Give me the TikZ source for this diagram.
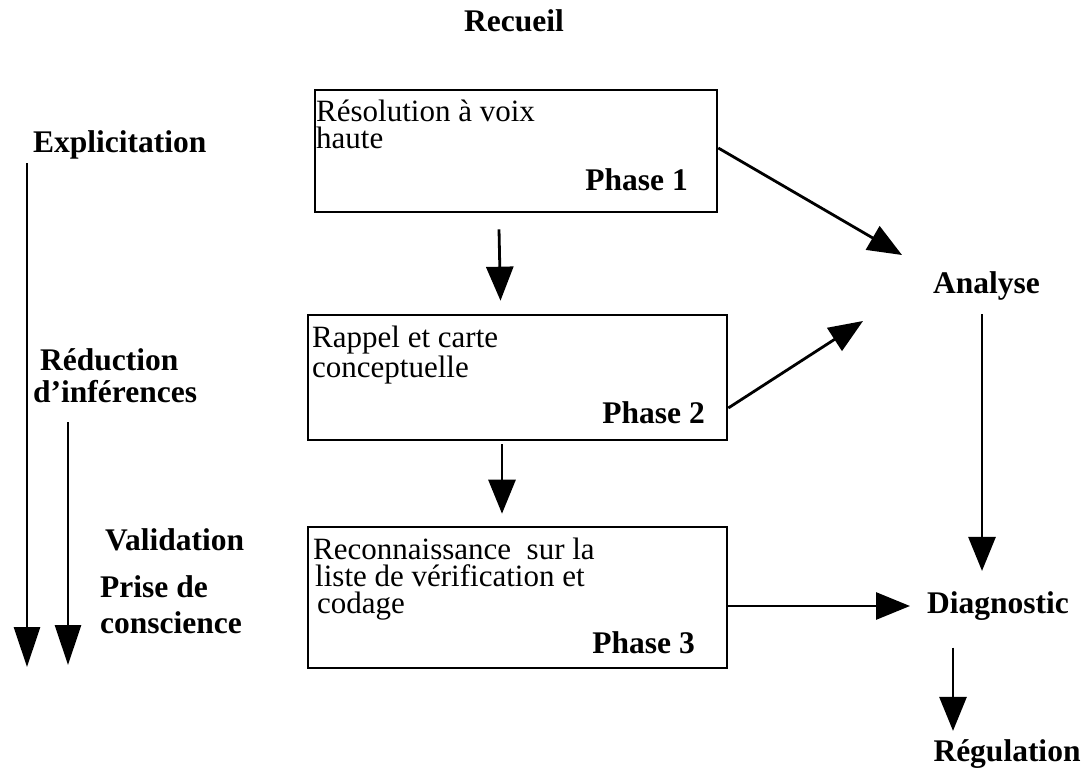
\documentclass[tikz,border=0pt]{standalone}
\usepackage{fontspec}
\setmainfont{Liberation Serif}
\usetikzlibrary{arrows.meta}

\tikzset{
  box/.style={draw, line width=2.6pt, inner sep=0pt},
  txt/.style={inner sep=0pt, anchor=base west, align=left, font=\fontsize{31}{27}\selectfont},
  bold/.style={inner sep=0pt, font=\fontsize{31.5}{36}\selectfont\bfseries},
  arr/.style={line width=2.8pt, -{Triangle[length=34pt,width=27pt]}},
  longarr/.style={line width=2.8pt, -{Triangle[length=40pt,width=26pt]}}
}

\begin{document}
\begin{tikzpicture}[x=1pt,y=-1pt]
  \useasboundingbox (0,0) rectangle (1081,773);

  % heading
  \node[bold, anchor=base] (recueil) at (514,32) {Recueil};

  % the three phases
  \node[box, minimum width=402pt, minimum height=122pt] (b1) at (516,151) {};
  \node[box, minimum width=419pt, minimum height=125pt] (b2) at (517.5,377.5) {};
  \node[box, minimum width=419pt, minimum height=141pt] (b3) at (517.5,597.5) {};

  % multi-line texts are placed by the baseline of their last line
  \node[txt] (b1t) at (316,148) {Résolution à voix\\haute};
  \node[bold, anchor=base east] (p1) at (688,190) {Phase 1};

  \node[txt] (b2t) at (312,377) {Rappel et carte\\conceptuelle};
  \node[bold, anchor=base east] (p2) at (705,423) {Phase 2};

  \node[txt] (b3t) at (313,613) {Reconnaissance\ \ sur la\\\hspace*{2pt}liste de vérification et\\\hspace*{4pt}codage};
  \node[bold, anchor=base east] (p3) at (695,653) {Phase 3};

  % left column
  \node[bold, anchor=base west] (expl) at (33,153) {Explicitation};
  \node[bold, anchor=base west] (red1) at (40,370) {Réduction};
  \node[bold, anchor=base west] (red2) at (33,402) {d’inférences};
  \node[bold, anchor=base west] (valid) at (105,550) {Validation};
  \node[bold, anchor=base west] (prise1) at (100,597) {Prise de};
  \node[bold, anchor=base west] (prise2) at (100,633) {conscience};

  % right column
  \node[bold, anchor=base] (analyse) at (986.5,293) {Analyse};
  \node[bold, anchor=base] (diag) at (998,613) {Diagnostic};
  \node[bold, anchor=base] (regul) at (1007,761) {Régulation};

  % free ends of the arrows
  \coordinate (l1s) at (27,163);
  \coordinate (l1e) at (27,667);
  \coordinate (l2s) at (68,422);
  \coordinate (l2e) at (68,665);
  \coordinate (an1) at (902,255);
  \coordinate (an2) at (863,321);
  \coordinate (dtip) at (910,606);

  \draw[longarr] (l1s) -- (l1e);
  \draw[longarr] (l2s) -- (l2e);

  % flow between phases
  \draw[arr] ([xshift=-17pt,yshift=-16pt]b1.south) -- ([xshift=-17pt,yshift=13pt]b2.north);
  \draw[arr] ([xshift=-15.5pt,yshift=-3pt]b2.south) -- ([xshift=-15.5pt,yshift=12pt]b3.north);

  % towards the analysis side
  \draw[arr] ([yshift=3pt]b1.east) -- (an1);
  \draw[arr] ([yshift=-30.5pt]b2.east) -- (an2);
  \draw[arr] (b3.east |- dtip) -- (dtip);

  \draw[arr] ([xshift=-4.5pt,yshift=-14pt]analyse.south) -- ([xshift=-16pt,yshift=20pt]diag.north);
  \draw[arr] ([xshift=-45pt,yshift=-27.5pt]diag.south) -- ([xshift=-54pt,yshift=8pt]regul.north);
\end{tikzpicture}
\end{document}
